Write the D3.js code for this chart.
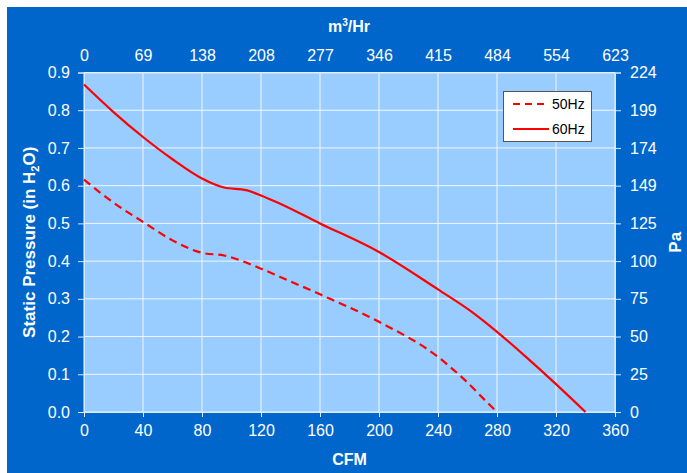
<!DOCTYPE html>
<html><head><meta charset="utf-8">
<script src="https://cdn.jsdelivr.net/npm/d3@7"></script>
<style>body{margin:0;background:#fff;} text{font-family:"Liberation Sans",Arial,sans-serif;}</style>
</head><body>
<svg id="c" width="687" height="473"></svg>
<script>
const cfm60 = [0, 20, 40, 60, 80, 95, 110, 120, 133, 160, 200, 240, 262, 280, 300, 320, 340];
const sp60  = [0.868, 0.795, 0.729, 0.670, 0.619, 0.595, 0.588, 0.574, 0.552, 0.500, 0.424, 0.325, 0.268, 0.2125, 0.145, 0.074, 0.0];
const cfm50 = [0, 20, 40, 60, 80, 95, 120, 133, 160, 200, 240, 257, 275, 280];
const sp50  = [0.616, 0.555, 0.504, 0.455, 0.422, 0.415, 0.380, 0.358, 0.312, 0.239, 0.146, 0.089, 0.019, 0.0];
const xTicks = [0, 40, 80, 120, 160, 200, 240, 280, 320, 360];
const yTicks = [0, 0.1, 0.2, 0.3, 0.4, 0.5, 0.6, 0.7, 0.8, 0.9];
const topLabels = ["0", "69", "138", "208", "277", "346", "415", "484", "554", "623"];
const rightLabels = ["0", "25", "50", "75", "100", "125", "149", "174", "199", "224"];
const seriesNames = ["50Hz", "60Hz"];

const svg = d3.select("#c");
const L = 84, R = 615, T = 72.5, B = 412;
svg.append("rect").attr("x", 7).attr("y", 7).attr("width", 680).attr("height", 466).attr("fill", "#0066cc");

const x = d3.scaleLinear().domain([0, 360]).range([L, R]);
const y = d3.scaleLinear().domain([0, 0.9]).range([B, T]);

svg.append("rect").attr("x", L).attr("y", T).attr("width", R - L).attr("height", B - T).attr("fill", "#99ccff");

const grid = svg.append("g").attr("stroke", "#f0f7ff").attr("stroke-width", 1);
xTicks.forEach(t => grid.append("line").attr("x1", x(t)).attr("x2", x(t)).attr("y1", T).attr("y2", B));
yTicks.forEach(t => grid.append("line").attr("x1", L).attr("x2", R).attr("y1", y(t)).attr("y2", y(t)));

function styleAxis(g) {
  g.selectAll("path").attr("stroke", "#dce9f7");
  g.selectAll("line").attr("stroke", "#dce9f7");
  g.selectAll("text").attr("fill", "#ffffff").style("font-size", "16px").style("font-family", "Liberation Sans, Arial, sans-serif");
}

svg.append("g").attr("transform", `translate(0,${B})`)
  .call(d3.axisBottom(x).tickValues(xTicks).tickFormat(d3.format("d")).tickSizeOuter(0).tickSize(5).tickPadding(8))
  .call(styleAxis);
svg.append("g").attr("transform", `translate(0,${T})`)
  .call(d3.axisTop(x).tickValues(xTicks).tickFormat((d, i) => topLabels[i]).tickSizeOuter(0).tickSize(0).tickPadding(12))
  .call(styleAxis);
svg.append("g").attr("transform", `translate(${L},0)`)
  .call(d3.axisLeft(y).tickValues(yTicks).tickFormat(d3.format(".1f")).tickSizeOuter(0).tickSize(6).tickPadding(8))
  .call(styleAxis);
svg.append("g").attr("transform", `translate(${R},0)`)
  .call(d3.axisRight(y).tickValues(yTicks).tickFormat((d, i) => rightLabels[i]).tickSizeOuter(0).tickSize(6).tickPadding(9))
  .call(styleAxis);

const line = d3.line().x(d => x(d[0])).y(d => y(d[1])).curve(d3.curveMonotoneX);
svg.append("path").datum(cfm50.map((c, i) => [c, sp50[i]])).attr("d", line)
  .attr("fill", "none").attr("stroke", "#ff0000").attr("stroke-width", 2.2).attr("stroke-dasharray", "8,5");
svg.append("path").datum(cfm60.map((c, i) => [c, sp60[i]])).attr("d", line)
  .attr("fill", "none").attr("stroke", "#ff0000").attr("stroke-width", 2.2);

// titles
svg.append("text").attr("x", (L + R) / 2).attr("y", 465).attr("text-anchor", "middle")
  .attr("fill", "#fff").style("font-size", "16px").style("font-weight", "bold").text("CFM");
const tt = svg.append("text").attr("x", 349).attr("y", 32).attr("text-anchor", "middle")
  .attr("fill", "#fff").style("font-size", "16px").style("font-weight", "bold");
tt.append("tspan").text("m");
tt.append("tspan").attr("dy", -6).style("font-size", "10px").text("3");
tt.append("tspan").attr("dy", 6).text("/Hr");

const lt = svg.append("text").attr("transform", `translate(35,${(T + B) / 2}) rotate(-90)`).attr("text-anchor", "middle")
  .attr("fill", "#fff").style("font-size", "17px").style("font-weight", "bold");
lt.append("tspan").text("Static Pressure (in H");
lt.append("tspan").attr("dy", 4).style("font-size", "11px").text("2");
lt.append("tspan").attr("dy", -4).text("O)");

svg.append("text").attr("transform", `translate(681,${(T + B) / 2}) rotate(-90)`).attr("text-anchor", "middle")
  .attr("fill", "#fff").style("font-size", "17px").style("font-weight", "bold").text("Pa");

// legend
const lg = svg.append("g");
lg.append("rect").attr("x", 503.5).attr("y", 91.5).attr("width", 88).attr("height", 50)
  .attr("fill", "#ffffff").attr("stroke", "#555").attr("stroke-width", 1);
const rows = [104, 129];
seriesNames.forEach((n, i) => {
  lg.append("line").attr("x1", 513).attr("x2", 549).attr("y1", rows[i]).attr("y2", rows[i])
    .attr("stroke", "#ff0000").attr("stroke-width", 2.2).attr("stroke-dasharray", i === 0 ? "7,5" : null);
  lg.append("text").attr("x", 552).attr("y", rows[i] + 5).attr("fill", "#000").style("font-size", "14px").text(n);
});
</script>
</body></html>
